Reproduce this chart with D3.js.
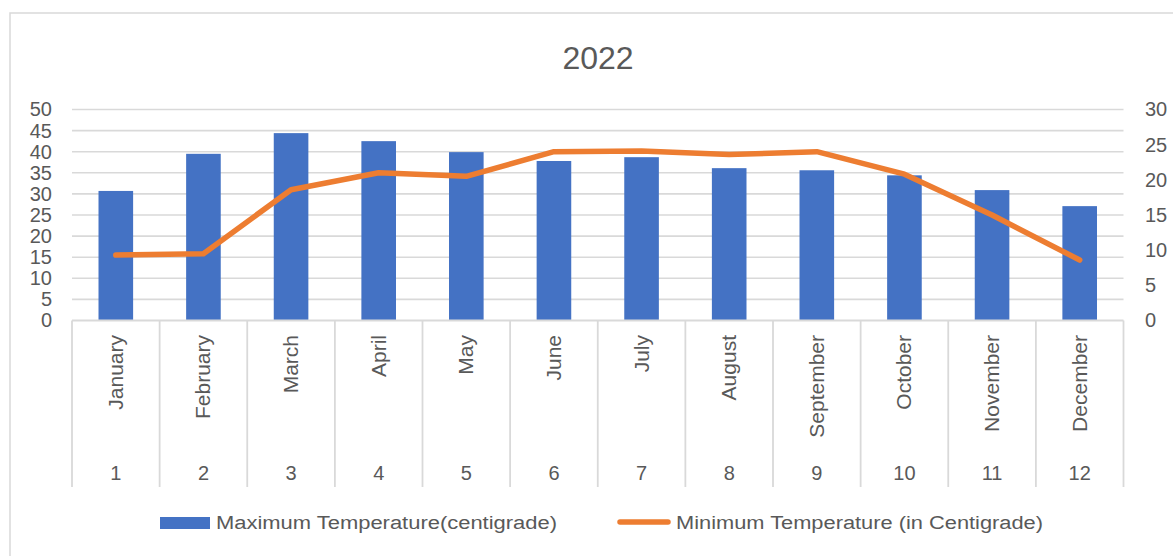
<!DOCTYPE html>
<html>
<head>
<meta charset="utf-8">
<script src="https://cdn.jsdelivr.net/npm/d3@7"></script>
<style>
  html, body { margin: 0; padding: 0; background: #fff; }
  svg { display: block; }
  text { font-family: "Liberation Sans", Arial, sans-serif; fill: #595959; }
</style>
</head>
<body>
<svg id="chart" width="1173" height="556"></svg>
<script>
const title = "2022";
const months = ["January","February","March","April","May","June","July","August","September","October","November","December"];
const monthNums = ["1","2","3","4","5","6","7","8","9","10","11","12"];
const maxTemp = [30.7, 39.5, 44.4, 42.5, 39.9, 37.8, 38.7, 36.1, 35.6, 34.4, 30.9, 27.1];
const minTemp = [9.3, 9.5, 18.6, 21.0, 20.5, 24.0, 24.1, 23.6, 24.0, 20.8, 15.0, 8.6];
const leftTicks = [0, 5, 10, 15, 20, 25, 30, 35, 40, 45, 50];
const rightTicks = [0, 5, 10, 15, 20, 25, 30];
const seriesNames = ["Maximum Temperature(centigrade)", "Minimum Temperature (in Centigrade)"];

const svg = d3.select("#chart");
const plot = { left: 72, right: 1123.5, top: 109.5, bottom: 320.5 };
const blue = "#4472C4", orange = "#ED7D31", grid = "#d9d9d9";

// chart border (top and left visible)
svg.append("rect").attr("x", 10).attr("y", 13).attr("width", 1200).attr("height", 600)
  .attr("fill", "none").attr("stroke", grid).attr("stroke-width", 1.5);

const x = d3.scaleBand().domain(months).range([plot.left, plot.right]).paddingInner(0.605).paddingOuter(0.3025);
const xStep = d3.scaleBand().domain(months).range([plot.left, plot.right]).padding(0);
const yL = d3.scaleLinear().domain([0, 50]).range([plot.bottom, plot.top]);
const yR = d3.scaleLinear().domain([0, 30]).range([plot.bottom, plot.top]);

// title
svg.append("text").attr("x", 598).attr("y", 69).attr("text-anchor", "middle")
  .attr("font-size", 32).text(title);

// gridlines
svg.append("g").selectAll("line").data(leftTicks.filter(d => d > 0)).join("line")
  .attr("x1", plot.left).attr("x2", plot.right)
  .attr("y1", d => yL(d)).attr("y2", d => yL(d))
  .attr("stroke", grid).attr("stroke-width", 1.6);

// left axis
const gL = svg.append("g").attr("transform", `translate(52,0)`)
  .call(d3.axisLeft(yL).tickValues(leftTicks).tickSize(0).tickPadding(0));
gL.select(".domain").remove();
gL.selectAll("text").attr("font-size", 20).attr("fill", "#595959")
  .style("font-family", '"Liberation Sans", Arial, sans-serif');

// right axis
const gR = svg.append("g").attr("transform", `translate(1145,0)`)
  .call(d3.axisRight(yR).tickValues(rightTicks).tickSize(0).tickPadding(0));
gR.select(".domain").remove();
gR.selectAll("text").attr("font-size", 20).attr("fill", "#595959")
  .style("font-family", '"Liberation Sans", Arial, sans-serif');

// bars
svg.append("g").selectAll("rect").data(months).join("rect")
  .attr("x", d => x(d)).attr("width", x.bandwidth())
  .attr("y", (d, i) => yL(maxTemp[i]))
  .attr("height", (d, i) => yL(0) - yL(maxTemp[i]))
  .attr("fill", blue);

// category axis: baseline and separators
svg.append("line").attr("x1", plot.left).attr("x2", plot.right)
  .attr("y1", plot.bottom).attr("y2", plot.bottom)
  .attr("stroke", grid).attr("stroke-width", 1.8);
const bounds = months.map(m => xStep(m)).concat([plot.right]);
svg.append("g").selectAll("line").data(bounds).join("line")
  .attr("x1", d => d).attr("x2", d => d)
  .attr("y1", plot.bottom).attr("y2", 487)
  .attr("stroke", grid).attr("stroke-width", 1.8);

// rotated month labels
svg.append("g").selectAll("text").data(months).join("text")
  .attr("transform", d => `translate(${xStep(d) + xStep.bandwidth() / 2 + 7},335) rotate(-90)`)
  .attr("text-anchor", "end").attr("font-size", 21).text(d => d);

// number row
svg.append("g").selectAll("text").data(months).join("text")
  .attr("x", d => xStep(d) + xStep.bandwidth() / 2).attr("y", 480)
  .attr("text-anchor", "middle").attr("font-size", 20)
  .text((d, i) => monthNums[i]);

// line
const line = d3.line().x((d, i) => xStep(months[i]) + xStep.bandwidth() / 2).y(d => yR(d));
svg.append("path").datum(minTemp).attr("d", line)
  .attr("fill", "none").attr("stroke", orange).attr("stroke-width", 5.5)
  .attr("stroke-linejoin", "round").attr("stroke-linecap", "round");

// legend
svg.append("rect").attr("x", 160).attr("y", 517).attr("width", 50).attr("height", 12).attr("fill", blue);
svg.append("text").attr("x", 216).attr("y", 528.5).attr("font-size", 18)
  .attr("textLength", 341).attr("lengthAdjust", "spacingAndGlyphs").text(seriesNames[0]);
svg.append("line").attr("x1", 620).attr("x2", 668).attr("y1", 522).attr("y2", 522)
  .attr("stroke", orange).attr("stroke-width", 5.5).attr("stroke-linecap", "round");
svg.append("text").attr("x", 676).attr("y", 528.5).attr("font-size", 18)
  .attr("textLength", 367).attr("lengthAdjust", "spacingAndGlyphs").text(seriesNames[1]);
</script>
</body>
</html>
